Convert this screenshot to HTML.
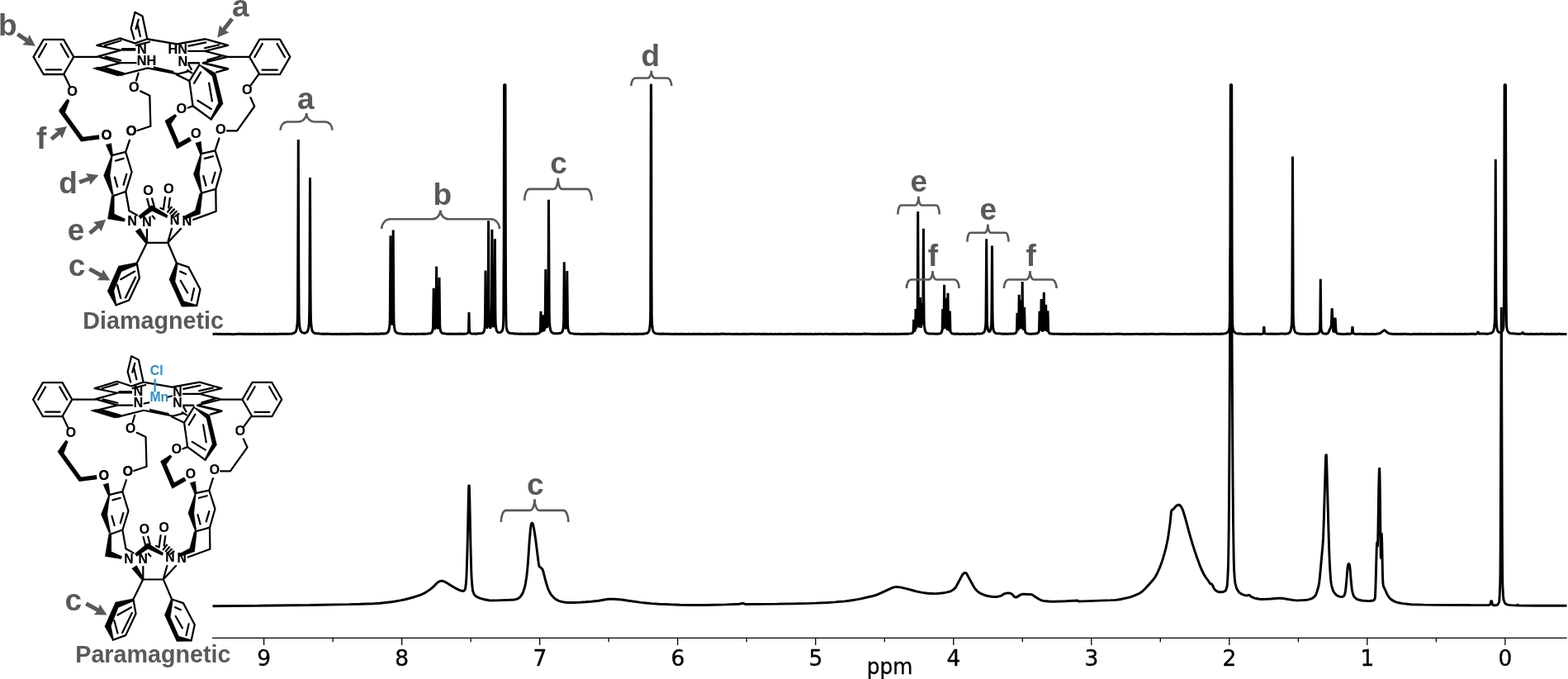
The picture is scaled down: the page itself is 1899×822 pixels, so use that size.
<!DOCTYPE html>
<html lang="en">
<head>
<meta charset="utf-8">
<title>1H NMR spectra: diamagnetic vs paramagnetic</title>
<style>
html,body{margin:0;padding:0;background:#fff;}
body{width:1899px;height:822px;overflow:hidden;}
svg{display:block;}
.lab{font-family:"Liberation Sans",Arial,Helvetica,sans-serif;font-weight:700;font-size:37px;fill:#585a59;}
.cap{font-family:"Liberation Sans",Arial,Helvetica,sans-serif;font-weight:700;font-size:28.7px;fill:#585a59;}
.atom{font-family:"Liberation Sans",Arial,Helvetica,sans-serif;font-weight:700;font-size:17.3px;fill:#000;stroke:#000;stroke-width:0.2px;stroke-linejoin:round;}
.matom{font-family:"Liberation Sans",Arial,Helvetica,sans-serif;font-weight:700;font-size:17.3px;fill:#2a8fd2;}
.tick{font-family:"DejaVu Sans","Liberation Sans",sans-serif;font-size:26.5px;fill:#000;stroke:#000;stroke-width:0.35px;}
</style>
</head>
<body>
<svg width="1899" height="822" viewBox="0 0 1899 822">
<rect x="0" y="0" width="1899" height="822" fill="#fff"/>

<g id="mol-top">
<path d="M89.25,68.90 L77.08,89.99 L52.73,89.99 L40.55,68.90 L52.72,47.81 L77.08,47.81Z M74.03,84.39 L55.77,84.39 M46.92,69.06 L56.05,53.25 M73.75,53.25 L82.88,69.06 M351.30,68.90 L339.00,90.20 L314.40,90.20 L302.10,68.90 L314.40,47.60 L339.00,47.60Z M335.93,84.60 L317.47,84.60 M308.49,69.04 L317.71,53.06 M335.69,53.06 L344.91,69.04 M89.25,68.90 L118.52,68.84 M275.66,68.94 L302.10,68.90 M117.46,54.97 L145.50,46.30 L163.49,52.33 L178.31,47.25 L214.29,53.39 L248.68,47.25 L276.19,54.97 L248.15,61.85 L275.66,68.84 L246.03,76.14 L276.19,83.02 L262.96,87.25 M126.98,55.19 L146.24,49.26 M146.03,60.79 L117.46,54.97 M165.08,54.97 L180.95,50.74 M146.03,60.79 L118.52,68.41 L146.03,76.14 L164.55,76.14 M127.72,68.73 L146.03,73.17 M146.03,76.14 L117.46,83.02 M146.56,90.63 L178.84,82.49 M228.57,55.71 L249.21,51.48 M248.15,58.15 L265.08,54.44 M228.04,61.85 L248.15,61.85 M251.32,72.65 L268.04,67.88 M228.57,76.14 L240.74,76.14 M126.46,81.96 L149.74,88.84 M178.84,82.49 L214.29,89.47 M228.57,78.25 L231.75,84.07 M226.98,84.92 L232.28,88.31 M178.31,47.04 L172.49,19.52 L163.49,14.76 L158.73,34.34 L162.43,47.25 M167.72,23.76 L164.55,34.87 M166.67,30.11 L169.84,43.86 M167.57,88.70 L164.92,97.70 M170.21,110.40 L181.32,115.69 L182.38,152.72 L166.51,158.02 M77.62,90.29 L84.50,104.58 M241.53,78.47 L229.37,98.04 L233.60,128.20 L255.82,144.60 M243.12,87.46 L235.19,100.69 M239.42,121.85 L255.82,131.90 M253.17,100.69 L256.88,122.38 M213.49,90.11 L229.37,98.04 M213.49,90.11 L228.84,86.08 M228.31,76.35 L241.01,76.35 M245.77,76.35 L275.93,83.76 L262.17,87.46 M233.60,128.20 L227.78,130.53 M313.49,89.58 L303.97,102.80 M303.44,118.15 L308.20,128.73 L287.04,158.36 L274.87,158.36 M135.61,188.20 L152.22,183.97 L159.63,208.23 L152.33,231.83 L137.09,237.22 M140.05,194.55 L149.58,191.90 M138.99,214.58 L142.17,226.22 M153.28,210.87 L149.58,223.57 M156.98,169.68 L152.22,183.97 M152.22,231.51 L156.46,255.32 L165.98,260.61 M243.44,186.08 L260.58,182.38 L267.99,205.58 L261.32,228.86 L244.18,233.62 M247.88,191.90 L257.94,189.26 M246.30,212.99 L249.47,224.63 M260.58,208.76 L256.88,221.46 M265.34,167.57 L260.58,182.38 M261.32,228.86 L261.64,255.85 L234.13,265.90 M178.31,240.87 L180.95,250.93 M184.13,240.34 L186.77,249.87 M200.00,238.76 L197.88,253.57 L194.39,251.98 M205.82,239.81 L204.23,251.46 M203.17,256.53 L207.72,250.61 M206.35,258.33 L210.90,253.36 M209.52,260.13 L213.76,255.90 M212.38,261.83 L216.40,258.65 M184.66,261.51 L187.30,264.68 M177.78,293.78 L203.17,293.78 M177.99,277.91 L177.99,293.78 M207.94,276.85 L203.17,293.78 M219.05,276.85 L203.17,293.78 M177.94,293.70 L165.77,318.57 L168.94,336.56 L156.24,363.54 L140.37,369.37 M146.19,338.15 L163.12,328.62 M141.96,345.03 L146.19,360.90 M152.01,360.37 L164.18,335.50 M203.33,293.70 L213.92,318.57 L228.20,323.33 L242.49,350.32 L238.25,369.89 M218.15,328.62 L225.03,331.80 M218.68,339.74 L227.14,354.55 M235.08,349.26 L231.90,363.54" fill="none" stroke="#000" stroke-width="2.3" stroke-linecap="round" stroke-linejoin="round"/>
<path d="M147.09,59.84 L164.34,59.84" fill="none" stroke="#000" stroke-width="3.6" stroke-linecap="butt" stroke-linejoin="miter"/>
<path d="M73.81,133.57 L99.31,168.60 L120.16,165.95" fill="none" stroke="#000" stroke-width="5.3" stroke-linecap="butt" stroke-linejoin="miter"/>
<path d="M202.38,145.66 L215.61,176.56 L230.63,168.10" fill="none" stroke="#000" stroke-width="5.5" stroke-linecap="butt" stroke-linejoin="miter"/>
<path d="M112.17,82.80 L118.52,81.11 L149.74,88.52 L148.15,91.27 L142.33,92.01Z M186.14,80.58 L210.16,85.98 L210.16,88.52 L186.14,83.54Z M81.32,119.92 L84.18,121.51 L78.89,136.01 L71.06,134.21Z M241.01,77.83 L261.11,88.41 L270.11,125.56 L256.14,145.45 L254.55,144.07 L264.50,124.39 L257.09,92.43 L242.06,79.52Z M211.90,138.25 L214.02,140.37 L207.14,149.89 L199.74,146.19Z M135.01,188.20 L125.56,212.46 L136.29,237.72 L137.69,237.22 L133.17,212.46 L136.41,188.20Z M128.20,175.29 L134.76,173.39 L136.88,188.41 L134.23,188.84Z M135.45,235.58 L138.31,235.58 L138.31,259.07 L151.64,265.00 L150.58,268.17 L130.48,265.00Z M242.84,186.08 L234.34,210.87 L243.38,234.12 L244.78,233.62 L241.53,210.87 L244.24,186.08Z M236.77,173.17 L243.33,171.27 L245.03,186.08 L242.28,186.72Z M241.80,233.99 L245.19,233.47 L242.33,259.07 L224.02,265.42 L221.69,262.57 L236.30,254.84Z M167.72,261.51 L183.60,248.49 L203.17,260.45 L202.12,263.84 L184.13,255.48 L170.05,264.89Z M164.02,280.03 L169.84,276.32 L179.15,292.72 L176.40,294.63Z M165.77,317.72 L143.54,322.06 L130.11,352.43 L140.05,370.21 L141.11,368.52 L137.94,351.90 L147.04,328.84 L166.08,320.90Z M213.07,318.04 L204.92,338.15 L220.05,371.27 L238.78,370.95 L238.25,369.15 L222.59,364.60 L212.01,340.79 L215.19,320.90Z" fill="#000" stroke="#000" stroke-width="0.4" stroke-linejoin="round"/>
<text transform="translate(162.28,110.77) scale(0.94,1)" text-anchor="middle" class="atom">O</text>
<text transform="translate(159.10,164.42) scale(0.94,1)" text-anchor="middle" class="atom">O</text>
<text transform="translate(87.67,116.06) scale(0.94,1)" text-anchor="middle" class="atom">O</text>
<text transform="translate(128.94,168.97) scale(0.94,1)" text-anchor="middle" class="atom">O</text>
<text transform="translate(219.84,136.72) scale(0.94,1)" text-anchor="middle" class="atom">O</text>
<text transform="translate(237.30,166.88) scale(0.94,1)" text-anchor="middle" class="atom">O</text>
<text transform="translate(299.21,113.76) scale(0.94,1)" text-anchor="middle" class="atom">O</text>
<text transform="translate(267.25,162.44) scale(0.94,1)" text-anchor="middle" class="atom">O</text>
<text transform="translate(128.94,169.21) scale(0.94,1)" text-anchor="middle" class="atom">O</text>
<text transform="translate(159.10,164.24) scale(0.94,1)" text-anchor="middle" class="atom">O</text>
<text transform="translate(160.11,273.31) scale(0.94,1)" text-anchor="middle" class="atom">N</text>
<text transform="translate(177.78,273.52) scale(0.94,1)" text-anchor="middle" class="atom">N</text>
<text transform="translate(211.64,271.93) scale(0.94,1)" text-anchor="middle" class="atom">N</text>
<text transform="translate(226.46,272.99) scale(0.94,1)" text-anchor="middle" class="atom">N</text>
<text transform="translate(179.58,236.48) scale(0.94,1)" text-anchor="middle" class="atom">O</text>
<text transform="translate(204.23,234.37) scale(0.94,1)" text-anchor="middle" class="atom">O</text>
<text transform="translate(171.96,65.08) scale(0.94,1)" text-anchor="middle" class="atom">N</text>
<text transform="translate(177.57,78.84) scale(0.94,1)" text-anchor="middle" class="atom">NH</text>
<text transform="translate(215.34,65.40) scale(0.94,1)" text-anchor="middle" class="atom">HN</text>
<text transform="translate(221.48,79.90) scale(0.94,1)" text-anchor="middle" class="atom">N</text>
</g>
<g id="mol-bottom" transform="translate(0.81,416.83) scale(0.969)">
<path d="M89.25,68.90 L77.08,89.99 L52.73,89.99 L40.55,68.90 L52.72,47.81 L77.08,47.81Z M74.03,84.39 L55.77,84.39 M46.92,69.06 L56.05,53.25 M73.75,53.25 L82.88,69.06 M351.30,68.90 L339.00,90.20 L314.40,90.20 L302.10,68.90 L314.40,47.60 L339.00,47.60Z M335.93,84.60 L317.47,84.60 M308.49,69.04 L317.71,53.06 M335.69,53.06 L344.91,69.04 M89.25,68.90 L118.52,68.84 M275.66,68.94 L302.10,68.90 M117.46,54.97 L145.50,46.30 L163.49,52.33 L178.31,47.25 L214.29,53.39 L248.68,47.25 L276.19,54.97 L248.15,61.85 L275.66,68.84 L246.03,76.14 L276.19,83.02 L262.96,87.25 M126.98,55.19 L146.24,49.26 M146.03,60.79 L117.46,54.97 M165.08,54.97 L180.95,50.74 M146.03,60.79 L118.52,68.41 L146.03,76.14 L164.55,76.14 M127.72,68.73 L146.03,73.17 M146.03,76.14 L117.46,83.02 M146.56,90.63 L178.84,82.49 M228.57,55.71 L249.21,51.48 M248.15,58.15 L265.08,54.44 M228.04,61.85 L248.15,61.85 M251.32,72.65 L268.04,67.88 M228.57,76.14 L240.74,76.14 M126.46,81.96 L149.74,88.84 M178.84,82.49 L214.29,89.47 M228.57,78.25 L231.75,84.07 M226.98,84.92 L232.28,88.31 M178.31,47.04 L172.49,19.52 L163.49,14.76 L158.73,34.34 L162.43,47.25 M167.72,23.76 L164.55,34.87 M166.67,30.11 L169.84,43.86 M167.57,88.70 L164.92,97.70 M170.21,110.40 L181.32,115.69 L182.38,152.72 L166.51,158.02 M77.62,90.29 L84.50,104.58 M241.53,78.47 L229.37,98.04 L233.60,128.20 L255.82,144.60 M243.12,87.46 L235.19,100.69 M239.42,121.85 L255.82,131.90 M253.17,100.69 L256.88,122.38 M213.49,90.11 L229.37,98.04 M213.49,90.11 L228.84,86.08 M228.31,76.35 L241.01,76.35 M245.77,76.35 L275.93,83.76 L262.17,87.46 M233.60,128.20 L227.78,130.53 M313.49,89.58 L303.97,102.80 M303.44,118.15 L308.20,128.73 L287.04,158.36 L274.87,158.36 M135.61,188.20 L152.22,183.97 L159.63,208.23 L152.33,231.83 L137.09,237.22 M140.05,194.55 L149.58,191.90 M138.99,214.58 L142.17,226.22 M153.28,210.87 L149.58,223.57 M156.98,169.68 L152.22,183.97 M152.22,231.51 L156.46,255.32 L165.98,260.61 M243.44,186.08 L260.58,182.38 L267.99,205.58 L261.32,228.86 L244.18,233.62 M247.88,191.90 L257.94,189.26 M246.30,212.99 L249.47,224.63 M260.58,208.76 L256.88,221.46 M265.34,167.57 L260.58,182.38 M261.32,228.86 L261.64,255.85 L234.13,265.90 M178.31,240.87 L180.95,250.93 M184.13,240.34 L186.77,249.87 M200.00,238.76 L197.88,253.57 L194.39,251.98 M205.82,239.81 L204.23,251.46 M203.17,256.53 L207.72,250.61 M206.35,258.33 L210.90,253.36 M209.52,260.13 L213.76,255.90 M212.38,261.83 L216.40,258.65 M184.66,261.51 L187.30,264.68 M177.78,293.78 L203.17,293.78 M177.99,277.91 L177.99,293.78 M207.94,276.85 L203.17,293.78 M219.05,276.85 L203.17,293.78 M177.94,293.70 L165.77,318.57 L168.94,336.56 L156.24,363.54 L140.37,369.37 M146.19,338.15 L163.12,328.62 M141.96,345.03 L146.19,360.90 M152.01,360.37 L164.18,335.50 M203.33,293.70 L213.92,318.57 L228.20,323.33 L242.49,350.32 L238.25,369.89 M218.15,328.62 L225.03,331.80 M218.68,339.74 L227.14,354.55 M235.08,349.26 L231.90,363.54 M179.35,73.95 L185.36,72.86 M208.84,65.76 L213.75,64.67" fill="none" stroke="#000" stroke-width="2.3" stroke-linecap="round" stroke-linejoin="round"/>
<path d="M147.09,59.84 L164.34,59.84" fill="none" stroke="#000" stroke-width="3.6" stroke-linecap="butt" stroke-linejoin="miter"/>
<path d="M73.81,133.57 L99.31,168.60 L120.16,165.95" fill="none" stroke="#000" stroke-width="5.3" stroke-linecap="butt" stroke-linejoin="miter"/>
<path d="M202.38,145.66 L215.61,176.56 L230.63,168.10" fill="none" stroke="#000" stroke-width="5.5" stroke-linecap="butt" stroke-linejoin="miter"/>
<path d="M112.17,82.80 L118.52,81.11 L149.74,88.52 L148.15,91.27 L142.33,92.01Z M186.14,80.58 L210.16,85.98 L210.16,88.52 L186.14,83.54Z M81.32,119.92 L84.18,121.51 L78.89,136.01 L71.06,134.21Z M241.01,77.83 L261.11,88.41 L270.11,125.56 L256.14,145.45 L254.55,144.07 L264.50,124.39 L257.09,92.43 L242.06,79.52Z M211.90,138.25 L214.02,140.37 L207.14,149.89 L199.74,146.19Z M135.01,188.20 L125.56,212.46 L136.29,237.72 L137.69,237.22 L133.17,212.46 L136.41,188.20Z M128.20,175.29 L134.76,173.39 L136.88,188.41 L134.23,188.84Z M135.45,235.58 L138.31,235.58 L138.31,259.07 L151.64,265.00 L150.58,268.17 L130.48,265.00Z M242.84,186.08 L234.34,210.87 L243.38,234.12 L244.78,233.62 L241.53,210.87 L244.24,186.08Z M236.77,173.17 L243.33,171.27 L245.03,186.08 L242.28,186.72Z M241.80,233.99 L245.19,233.47 L242.33,259.07 L224.02,265.42 L221.69,262.57 L236.30,254.84Z M167.72,261.51 L183.60,248.49 L203.17,260.45 L202.12,263.84 L184.13,255.48 L170.05,264.89Z M164.02,280.03 L169.84,276.32 L179.15,292.72 L176.40,294.63Z M165.77,317.72 L143.54,322.06 L130.11,352.43 L140.05,370.21 L141.11,368.52 L137.94,351.90 L147.04,328.84 L166.08,320.90Z M213.07,318.04 L204.92,338.15 L220.05,371.27 L238.78,370.95 L238.25,369.15 L222.59,364.60 L212.01,340.79 L215.19,320.90Z" fill="#000" stroke="#000" stroke-width="0.4" stroke-linejoin="round"/>
<path d="M192.78,43.16 L192.78,59.54" fill="none" stroke="#2a8fd2" stroke-width="2.3" stroke-linecap="butt"/>
<text transform="translate(162.28,110.77) scale(0.94,1)" text-anchor="middle" class="atom">O</text>
<text transform="translate(159.10,164.42) scale(0.94,1)" text-anchor="middle" class="atom">O</text>
<text transform="translate(87.67,116.06) scale(0.94,1)" text-anchor="middle" class="atom">O</text>
<text transform="translate(128.94,168.97) scale(0.94,1)" text-anchor="middle" class="atom">O</text>
<text transform="translate(219.84,136.72) scale(0.94,1)" text-anchor="middle" class="atom">O</text>
<text transform="translate(237.30,166.88) scale(0.94,1)" text-anchor="middle" class="atom">O</text>
<text transform="translate(299.21,113.76) scale(0.94,1)" text-anchor="middle" class="atom">O</text>
<text transform="translate(267.25,162.44) scale(0.94,1)" text-anchor="middle" class="atom">O</text>
<text transform="translate(128.94,169.21) scale(0.94,1)" text-anchor="middle" class="atom">O</text>
<text transform="translate(159.10,164.24) scale(0.94,1)" text-anchor="middle" class="atom">O</text>
<text transform="translate(160.11,273.31) scale(0.94,1)" text-anchor="middle" class="atom">N</text>
<text transform="translate(177.78,273.52) scale(0.94,1)" text-anchor="middle" class="atom">N</text>
<text transform="translate(211.64,271.93) scale(0.94,1)" text-anchor="middle" class="atom">N</text>
<text transform="translate(226.46,272.99) scale(0.94,1)" text-anchor="middle" class="atom">N</text>
<text transform="translate(179.58,236.48) scale(0.94,1)" text-anchor="middle" class="atom">O</text>
<text transform="translate(204.23,234.37) scale(0.94,1)" text-anchor="middle" class="atom">O</text>
<text transform="translate(171.93,63.76) scale(0.94,1)" text-anchor="middle" class="atom">N</text>
<text transform="translate(171.93,78.51) scale(0.94,1)" text-anchor="middle" class="atom">N</text>
<text transform="translate(221.07,65.40) scale(0.94,1)" text-anchor="middle" class="atom">N</text>
<text transform="translate(221.07,79.05) scale(0.94,1)" text-anchor="middle" class="atom">N</text>
<text transform="translate(198.13,71.63) scale(0.94,1)" text-anchor="middle" class="matom">Mn</text>
<text transform="translate(194.97,38.10) scale(0.94,1)" text-anchor="middle" class="matom">Cl</text>
</g>
<g transform="scale(1.0,1)" fill="none" stroke="#000" stroke-linejoin="bevel" stroke-linecap="butt">
<path d="M257.50,733.80 L313.50,733.26 L375.00,732.50 L422.25,731.65 L436.50,731.27 L452.75,730.68 L460.25,730.17 L469.00,729.31 L473.75,728.73 L478.75,727.95 L484.75,726.85 L490.25,725.71 L495.25,724.47 L501.75,722.71 L505.75,721.44 L509.50,720.06 L512.75,718.69 L514.75,717.65 L517.25,716.10 L520.50,713.84 L522.50,712.30 L525.00,710.20 L526.00,709.23 L528.75,706.24 L529.75,705.36 L530.75,704.63 L531.75,704.06 L532.75,703.63 L533.75,703.34 L534.75,703.21 L535.75,703.26 L536.50,703.42 L539.50,704.74 L541.00,705.60 L545.25,708.35 L549.75,711.06 L552.25,712.42 L555.75,714.15 L559.25,715.47 L560.25,715.54 L561.75,715.32 L562.25,714.87 L563.25,713.41 L563.50,712.64 L563.75,711.35 L564.50,705.00 L565.00,696.79 L565.50,683.26 L566.00,665.31 L566.60,640.00 L567.50,595.99 L567.75,589.41 L568.00,587.00 L568.25,587.87 L568.50,592.60 L568.70,600.00 L570.00,663.20 L570.75,691.33 L571.00,697.21 L571.50,705.00 L572.00,710.54 L572.50,714.68 L572.80,716.00 L573.75,718.39 L574.50,719.88 L575.00,720.50 L576.50,721.80 L577.50,722.54 L580.50,723.89 L582.50,724.60 L587.00,725.79 L592.25,726.79 L595.00,727.00 L602.25,726.90 L617.00,726.31 L622.50,726.00 L623.75,725.83 L625.25,725.44 L627.00,724.80 L627.75,724.41 L628.50,723.86 L630.00,722.50 L630.75,721.65 L631.75,720.21 L632.75,718.55 L633.25,717.47 L634.00,715.50 L635.50,710.75 L636.50,706.07 L637.75,698.20 L638.50,691.48 L639.25,683.09 L639.75,676.66 L641.20,655.00 L642.25,642.79 L642.80,638.00 L643.25,635.28 L643.75,633.63 L644.00,633.28 L644.20,633.20 L644.50,633.27 L644.75,633.43 L645.00,633.73 L645.50,634.87 L646.50,639.26 L647.25,643.40 L648.75,653.56 L652.00,679.47 L652.50,683.01 L652.75,684.28 L653.00,685.21 L653.40,686.00 L654.75,686.99 L656.25,688.34 L656.80,689.00 L657.25,689.87 L658.25,693.06 L660.25,701.05 L661.75,706.51 L663.00,710.53 L664.25,713.84 L665.75,716.98 L666.75,718.72 L667.50,719.85 L668.75,721.40 L670.00,722.80 L671.00,723.80 L672.00,724.64 L674.75,726.40 L676.00,727.05 L677.25,727.57 L681.25,728.63 L684.75,729.28 L687.50,729.50 L696.00,729.55 L700.00,729.40 L709.50,728.81 L716.00,728.21 L725.25,727.17 L727.75,726.79 L735.00,725.48 L737.50,725.20 L739.50,725.12 L743.25,725.27 L753.25,726.08 L765.00,727.80 L776.25,729.34 L782.50,730.07 L789.00,730.65 L798.00,731.20 L812.00,731.81 L823.25,732.16 L837.25,732.43 L846.25,732.51 L854.25,732.46 L879.25,731.88 L895.25,731.18 L896.25,731.04 L898.75,730.45 L900.00,730.30 L900.50,730.40 L902.00,731.28 L902.50,731.40 L941.25,731.10 L963.75,730.78 L980.50,730.39 L987.75,730.15 L1002.25,729.49 L1011.50,728.90 L1023.25,727.87 L1028.00,727.29 L1033.25,726.51 L1038.25,725.67 L1042.50,724.84 L1056.00,721.81 L1059.75,720.76 L1063.00,719.61 L1068.00,717.44 L1080.50,711.58 L1082.50,710.93 L1084.25,710.64 L1086.00,710.59 L1087.75,710.67 L1089.50,710.85 L1091.25,711.14 L1099.50,713.07 L1108.25,715.54 L1111.75,716.41 L1117.00,717.37 L1123.25,718.18 L1126.25,718.42 L1129.25,718.57 L1132.25,718.60 L1134.75,718.52 L1138.00,718.26 L1142.50,717.74 L1144.75,717.37 L1147.25,716.86 L1150.25,716.13 L1151.75,715.53 L1153.00,714.83 L1154.75,713.70 L1156.25,712.45 L1157.00,711.58 L1157.75,710.44 L1165.00,696.92 L1166.00,695.19 L1166.50,694.60 L1167.25,694.02 L1168.00,693.71 L1169.00,693.54 L1169.50,693.60 L1170.00,693.82 L1170.75,694.59 L1179.00,709.75 L1181.00,712.72 L1182.00,713.95 L1183.25,715.27 L1184.50,716.39 L1185.75,717.32 L1187.25,718.23 L1188.75,718.94 L1191.25,720.00 L1193.25,720.71 L1195.25,721.26 L1197.75,721.77 L1200.75,722.20 L1204.00,722.45 L1206.50,722.42 L1208.75,722.17 L1210.50,721.82 L1212.25,721.31 L1213.25,720.76 L1215.50,719.24 L1216.75,718.72 L1218.00,718.36 L1219.25,718.11 L1220.50,717.95 L1221.50,717.92 L1223.25,718.16 L1225.00,718.80 L1225.75,719.41 L1227.75,721.80 L1229.25,722.83 L1229.75,723.06 L1230.25,723.16 L1230.75,723.10 L1231.25,722.87 L1236.25,719.89 L1237.00,719.60 L1237.75,719.42 L1239.00,719.26 L1240.25,719.24 L1244.75,719.59 L1247.75,719.56 L1249.00,719.69 L1249.75,719.90 L1250.75,720.38 L1253.75,722.44 L1257.75,724.96 L1259.75,726.08 L1261.25,726.72 L1262.75,727.15 L1264.50,727.46 L1272.75,728.25 L1274.50,728.30 L1277.25,728.25 L1290.50,727.78 L1305.00,727.00 L1305.25,727.07 L1306.25,727.93 L1306.50,728.00 L1311.50,727.88 L1345.00,726.63 L1350.75,726.36 L1354.00,726.01 L1357.00,725.52 L1360.50,724.80 L1365.75,723.63 L1368.75,722.81 L1372.25,721.64 L1376.00,720.20 L1378.25,719.18 L1380.50,717.93 L1382.25,716.77 L1383.75,715.61 L1385.25,714.26 L1387.25,712.26 L1394.75,703.94 L1397.75,700.32 L1399.00,698.59 L1400.50,695.99 L1402.00,692.93 L1403.75,688.97 L1405.75,684.11 L1407.25,679.87 L1408.75,675.15 L1410.25,670.14 L1411.50,665.45 L1413.50,656.51 L1414.25,652.67 L1415.00,648.13 L1417.00,634.00 L1418.25,621.30 L1418.50,619.33 L1418.75,618.13 L1419.00,617.63 L1419.50,617.11 L1420.50,616.85 L1421.00,616.50 L1423.50,613.52 L1424.75,612.34 L1425.50,611.85 L1426.25,611.50 L1427.00,611.28 L1427.75,611.19 L1428.25,611.30 L1429.00,611.73 L1429.50,612.20 L1430.25,613.13 L1431.50,615.25 L1432.25,616.92 L1432.75,618.26 L1434.25,622.96 L1435.50,627.21 L1439.50,642.19 L1441.75,650.15 L1444.00,657.75 L1446.25,664.93 L1449.75,675.29 L1452.50,682.85 L1455.00,689.00 L1457.25,693.75 L1458.50,696.05 L1460.00,698.50 L1464.00,704.00 L1465.50,706.50 L1465.75,706.73 L1466.00,706.79 L1466.75,706.70 L1467.00,706.80 L1467.75,707.47 L1468.25,708.11 L1468.75,708.99 L1469.50,710.93 L1470.00,712.00 L1471.00,713.42 L1472.00,714.54 L1472.75,715.15 L1474.25,715.96 L1475.50,716.48 L1476.50,716.74 L1477.50,716.82 L1478.75,716.78 L1481.00,716.50 L1481.75,716.31 L1484.00,715.20 L1484.25,714.97 L1484.50,714.55 L1485.00,713.29 L1486.00,710.00 L1486.25,708.35 L1486.75,701.13 L1487.30,690.00 L1487.50,684.26 L1487.75,672.78 L1488.20,640.00 L1488.50,606.32 L1489.00,524.29 L1490.00,330.00 L1490.25,302.71 L1490.50,297.08 L1490.80,300.00 L1491.00,299.35 L1491.25,301.16 L1491.50,317.03 L1493.00,576.21 L1493.50,632.32 L1494.25,679.41 L1494.60,690.00 L1495.25,699.44 L1495.75,704.57 L1496.00,706.00 L1497.00,710.07 L1497.75,712.50 L1499.50,715.48 L1500.50,716.83 L1501.75,717.86 L1503.50,719.05 L1504.75,719.70 L1506.00,720.14 L1508.00,720.67 L1510.00,721.00 L1510.75,720.91 L1512.25,720.37 L1513.00,720.40 L1513.25,720.54 L1514.50,721.80 L1517.00,723.10 L1518.75,723.83 L1520.00,724.20 L1524.00,725.05 L1526.00,725.35 L1527.75,725.49 L1531.75,725.40 L1539.25,725.04 L1547.75,724.30 L1551.25,724.19 L1553.75,724.42 L1559.75,725.56 L1565.50,726.40 L1569.00,726.80 L1570.75,726.90 L1572.75,726.89 L1579.00,726.54 L1582.00,726.25 L1584.75,725.87 L1586.25,725.44 L1589.00,724.40 L1589.75,724.03 L1590.75,723.28 L1592.00,722.08 L1593.25,720.68 L1593.75,719.79 L1594.50,717.92 L1596.00,713.00 L1597.00,709.05 L1597.75,704.67 L1598.50,698.00 L1602.00,659.51 L1602.50,651.88 L1602.80,645.00 L1603.50,623.64 L1605.30,562.00 L1605.50,556.35 L1605.75,551.93 L1606.00,550.00 L1606.25,550.43 L1606.50,553.70 L1606.75,560.25 L1608.75,634.30 L1609.75,667.00 L1610.50,684.61 L1611.25,696.76 L1611.75,702.67 L1612.25,706.72 L1612.75,709.02 L1613.75,712.84 L1614.50,715.05 L1615.00,716.00 L1617.00,718.83 L1618.25,720.25 L1619.25,720.93 L1621.25,721.83 L1623.00,722.38 L1624.50,722.64 L1625.75,722.43 L1627.25,721.87 L1627.75,721.32 L1628.25,720.35 L1629.00,718.00 L1629.25,716.78 L1629.75,713.12 L1630.75,703.41 L1631.75,690.62 L1632.25,686.01 L1632.75,683.54 L1633.00,682.91 L1633.25,682.59 L1633.50,682.50 L1633.75,682.60 L1634.00,682.94 L1634.25,683.59 L1634.75,686.05 L1635.00,688.00 L1636.40,705.00 L1637.25,712.50 L1637.75,715.85 L1638.25,717.91 L1639.00,720.24 L1639.75,721.96 L1640.25,722.74 L1642.50,724.77 L1643.25,725.28 L1644.00,725.60 L1647.25,726.47 L1649.50,726.93 L1652.75,727.29 L1657.00,727.60 L1659.25,727.53 L1663.00,727.00 L1663.50,726.86 L1664.00,726.49 L1664.50,725.84 L1665.25,724.15 L1665.50,722.12 L1666.00,709.59 L1667.25,663.59 L1667.50,658.74 L1667.80,656.00 L1668.00,657.47 L1668.25,661.82 L1668.40,662.00 L1668.50,660.36 L1668.75,652.28 L1669.00,640.00 L1669.75,591.71 L1670.25,571.51 L1670.50,566.30 L1670.75,567.42 L1671.00,576.08 L1671.50,608.30 L1672.00,660.00 L1672.25,672.41 L1672.50,676.50 L1672.60,676.00 L1672.75,669.93 L1673.00,651.55 L1673.20,645.00 L1673.50,650.83 L1673.75,658.95 L1674.50,697.06 L1674.75,702.82 L1675.00,706.31 L1675.25,708.52 L1675.60,710.00 L1677.25,713.45 L1680.00,719.54 L1681.25,721.73 L1682.75,723.72 L1684.25,725.24 L1685.75,726.35 L1689.00,728.09 L1690.25,728.63 L1691.50,729.06 L1695.50,730.04 L1698.75,730.64 L1704.75,731.30 L1709.25,731.67 L1723.75,732.13 L1737.75,732.38 L1782.25,732.61 L1803.00,732.60 L1803.75,732.37 L1804.80,731.50 L1805.00,731.04 L1805.75,727.90 L1806.00,727.57 L1806.25,727.57 L1806.50,727.85 L1806.80,728.50 L1807.50,731.79 L1807.75,732.16 L1808.25,732.56 L1809.00,732.80 L1811.00,732.76 L1813.00,732.50 L1813.25,732.42 L1813.75,732.00 L1814.25,731.31 L1815.60,729.00 L1815.75,728.21 L1816.25,719.90 L1816.75,708.19 L1817.00,694.29 L1817.30,650.00 L1818.00,434.27 L1818.30,372.00 L1818.50,403.27 L1819.25,638.12 L1819.50,684.17 L1819.75,704.79 L1820.00,712.00 L1820.50,720.93 L1820.75,724.30 L1821.00,726.00 L1822.25,729.33 L1822.75,730.25 L1823.00,730.50 L1824.75,731.70 L1825.75,732.15 L1830.00,732.62 L1833.50,732.90 L1837.00,733.00 L1837.25,732.84 L1837.75,732.15 L1838.00,732.00 L1838.25,732.16 L1838.75,732.84 L1839.00,733.00 L1857.25,733.19 L1897.50,733.20" stroke-width="2.95"/>
<path d="M257.50,404.41 L260.90,404.16 L262.20,404.22 L264.00,404.55 L266.80,404.30 L268.30,404.44 L273.10,404.44 L275.60,404.27 L278.60,404.59 L280.00,404.51 L281.10,404.66 L283.10,404.63 L284.10,404.43 L285.10,404.57 L285.60,404.41 L287.40,404.40 L288.00,404.22 L289.50,404.34 L292.40,404.25 L293.80,404.42 L295.50,404.24 L298.30,404.51 L299.80,404.36 L301.70,404.55 L304.60,404.26 L307.60,404.42 L308.70,404.27 L310.90,404.43 L313.70,404.24 L315.10,404.47 L317.80,404.59 L320.20,404.49 L321.10,404.30 L323.20,404.38 L324.00,404.58 L326.80,404.21 L328.50,404.39 L333.20,404.25 L335.30,404.39 L338.70,404.15 L341.40,404.35 L343.50,404.18 L344.90,404.33 L348.60,404.32 L353.50,403.93 L355.90,403.27 L357.10,402.56 L357.80,401.92 L358.60,400.50 L359.50,396.98 L360.10,391.38 L360.40,385.45 L360.60,372.83 L361.30,168.91 L361.80,334.65 L362.10,380.80 L362.40,389.67 L363.00,395.94 L363.80,399.72 L364.20,400.72 L365.10,401.95 L366.50,402.82 L369.00,403.20 L370.20,402.86 L371.40,402.18 L372.60,400.73 L373.30,398.76 L373.70,396.78 L374.20,392.44 L374.50,388.03 L374.90,363.43 L375.50,215.02 L376.00,344.54 L376.30,381.64 L376.60,389.71 L377.30,396.79 L377.70,398.80 L378.30,400.68 L378.90,401.80 L379.70,402.62 L380.90,403.29 L382.60,403.78 L385.60,403.75 L387.20,404.07 L389.30,404.20 L390.20,404.09 L393.00,404.42 L393.60,404.22 L395.30,404.11 L397.40,404.34 L398.60,404.22 L401.50,404.43 L403.10,404.35 L403.90,404.52 L405.80,404.44 L406.70,404.22 L409.70,404.40 L414.10,404.33 L414.60,404.45 L416.60,404.29 L419.10,404.46 L421.80,404.28 L423.20,404.41 L425.40,404.19 L428.10,404.28 L430.40,404.16 L431.00,404.30 L433.40,404.33 L437.20,404.12 L438.10,404.28 L441.00,404.25 L443.90,404.54 L447.10,404.31 L451.50,404.37 L454.20,404.08 L459.00,404.37 L460.60,403.99 L462.20,403.86 L465.20,404.03 L467.90,403.42 L469.20,402.72 L470.00,401.90 L470.60,400.84 L471.00,399.71 L471.60,396.59 L472.10,391.29 L472.30,386.04 L473.00,285.36 L473.70,384.45 L474.00,390.30 L474.50,392.86 L474.80,392.55 L475.00,391.61 L475.40,386.84 L475.70,367.50 L476.20,278.59 L476.90,385.26 L477.10,390.85 L477.60,396.37 L478.30,399.94 L478.80,401.26 L479.20,401.88 L480.70,403.05 L483.10,403.83 L486.10,403.91 L487.10,404.16 L489.20,404.37 L489.70,404.24 L491.80,404.31 L492.20,404.14 L494.80,404.21 L495.50,404.40 L496.40,404.41 L499.60,404.18 L501.90,404.35 L503.40,404.39 L505.00,404.19 L507.50,404.37 L509.20,404.19 L509.90,404.34 L511.40,404.20 L512.20,404.31 L513.20,404.08 L514.40,404.18 L517.60,404.09 L521.20,403.42 L522.10,403.04 L522.80,402.49 L523.50,401.28 L524.00,399.63 L524.50,395.50 L525.20,348.83 L525.80,391.97 L526.20,397.15 L526.60,398.11 L526.80,398.11 L527.00,397.86 L527.40,396.52 L527.70,394.28 L528.00,387.00 L528.60,322.44 L529.20,386.86 L529.50,394.02 L529.80,396.11 L530.20,397.31 L530.50,397.36 L530.70,397.07 L531.10,395.32 L531.40,389.54 L532.00,335.90 L532.70,393.74 L532.90,396.76 L533.30,399.37 L533.80,401.23 L534.60,402.63 L535.30,403.19 L536.40,403.69 L538.70,403.78 L541.70,404.37 L544.20,404.23 L544.90,404.05 L545.40,404.20 L547.90,404.36 L550.10,404.17 L551.20,404.34 L552.00,404.21 L553.10,404.35 L555.40,404.31 L557.00,404.03 L560.00,404.27 L562.60,404.28 L564.90,403.88 L566.20,403.38 L566.70,402.90 L567.20,401.81 L567.50,399.48 L568.00,377.98 L568.50,399.48 L568.70,401.39 L569.30,402.90 L570.10,403.67 L570.90,404.02 L572.10,404.13 L573.90,403.95 L574.70,404.14 L575.10,404.03 L576.00,404.18 L577.60,403.92 L578.10,403.99 L578.90,403.81 L580.70,403.79 L583.40,403.50 L585.00,402.80 L585.80,401.87 L586.50,400.00 L587.00,397.28 L587.30,393.81 L587.60,376.88 L588.00,327.47 L588.40,376.29 L588.70,392.70 L589.10,396.09 L589.50,397.02 L589.80,396.76 L590.30,394.53 L590.80,388.36 L591.10,371.83 L591.60,267.27 L592.10,371.78 L592.30,385.58 L592.80,393.45 L593.10,395.47 L593.50,396.82 L593.80,397.10 L594.20,396.48 L594.80,392.97 L595.20,386.56 L595.50,358.95 L595.90,277.75 L596.40,373.62 L596.60,386.26 L596.90,391.46 L597.20,393.94 L597.50,395.06 L597.60,395.23 L597.80,395.18 L598.10,394.34 L598.60,389.96 L598.80,383.93 L599.40,289.33 L599.90,377.15 L600.10,388.81 L600.30,392.68 L601.00,398.49 L601.50,400.19 L602.10,401.37 L603.50,402.46 L604.40,402.64 L605.90,402.39 L607.30,401.58 L608.10,400.52 L608.60,399.41 L609.00,397.99 L609.30,396.03 L609.60,390.84 L609.80,380.78 L610.20,305.71 L610.60,102.60 L612.00,102.60 L612.40,305.87 L612.60,356.95 L612.90,387.15 L613.20,395.13 L613.50,397.67 L613.90,399.33 L614.60,401.00 L615.10,401.75 L616.00,402.62 L617.30,403.32 L618.70,403.57 L620.40,403.56 L623.00,404.06 L625.10,403.92 L628.10,404.30 L631.60,404.04 L633.30,404.29 L636.00,404.31 L637.10,404.18 L637.60,404.31 L639.60,404.04 L643.10,404.20 L645.50,403.91 L648.40,404.19 L651.60,403.79 L652.90,403.23 L653.40,402.84 L653.90,402.12 L654.40,400.11 L655.00,376.72 L655.40,395.71 L655.70,400.23 L656.10,401.06 L656.30,401.14 L656.50,401.00 L656.80,400.31 L657.00,398.75 L657.50,381.26 L658.00,398.42 L658.30,400.06 L658.70,400.22 L659.00,399.90 L659.40,398.81 L659.80,396.65 L660.20,390.51 L660.80,326.08 L661.40,389.62 L661.60,393.56 L661.90,395.46 L662.10,396.09 L662.30,396.21 L662.70,395.45 L663.20,392.22 L663.60,386.64 L663.90,371.91 L664.50,241.69 L665.20,380.23 L665.50,389.36 L666.00,395.45 L666.70,399.43 L667.20,400.85 L667.80,401.91 L668.20,402.35 L669.90,403.37 L671.90,403.80 L675.20,403.77 L678.50,403.36 L679.70,402.95 L680.70,402.02 L681.40,400.67 L681.90,398.81 L682.50,393.46 L682.70,386.87 L683.30,317.16 L683.80,379.01 L684.00,390.28 L684.20,393.83 L684.60,396.45 L684.90,397.22 L685.20,397.41 L685.50,396.91 L685.80,395.50 L686.10,391.68 L686.80,327.99 L687.50,392.51 L687.80,396.80 L688.30,399.66 L689.10,401.80 L690.00,402.89 L690.70,403.36 L691.30,403.53 L693.70,403.81 L694.10,404.01 L696.70,404.24 L701.30,404.21 L703.00,404.41 L713.00,404.15 L717.40,404.39 L718.50,404.26 L721.50,404.41 L729.00,404.07 L732.00,404.28 L733.60,404.17 L737.30,404.24 L738.00,404.41 L741.60,404.26 L744.30,404.51 L746.10,404.32 L750.80,404.42 L751.90,404.26 L754.40,404.23 L758.00,404.45 L760.90,404.14 L765.30,404.45 L769.70,404.15 L772.70,404.44 L773.60,404.22 L779.00,404.25 L783.00,403.59 L784.00,403.29 L784.60,402.87 L785.70,401.36 L786.20,400.15 L786.70,398.06 L787.30,392.85 L787.60,387.55 L787.80,375.53 L788.40,102.60 L788.60,102.60 L788.70,126.71 L789.00,327.58 L789.30,383.44 L789.70,392.63 L790.50,398.78 L790.80,399.97 L791.50,401.67 L792.40,402.79 L792.90,403.17 L794.00,403.65 L799.00,404.27 L802.00,404.01 L805.80,404.34 L809.50,404.21 L814.70,404.47 L818.10,404.16 L821.90,404.42 L823.80,404.28 L831.40,404.45 L834.10,404.28 L836.50,404.60 L840.80,404.26 L843.10,404.53 L845.30,404.32 L854.20,404.43 L857.90,404.27 L860.90,404.59 L867.90,404.25 L871.30,404.43 L874.40,404.08 L878.40,404.29 L879.80,404.50 L882.00,404.19 L883.40,404.19 L886.80,404.56 L892.70,404.22 L895.20,404.57 L896.50,404.45 L897.60,404.55 L900.60,404.25 L906.10,404.55 L908.40,404.26 L911.60,404.35 L912.70,404.19 L916.10,404.46 L919.20,404.27 L920.10,404.38 L926.10,404.29 L930.80,404.55 L932.70,404.34 L933.10,404.45 L934.30,404.35 L936.60,404.62 L939.30,404.35 L941.00,404.63 L943.80,404.36 L948.10,404.57 L950.30,404.42 L952.50,404.50 L954.00,404.34 L954.50,404.45 L957.50,404.20 L958.90,404.38 L962.50,404.47 L964.90,404.30 L966.10,404.47 L967.30,404.33 L972.30,404.45 L973.20,404.30 L973.60,404.44 L975.30,404.25 L978.70,404.56 L981.70,404.29 L985.20,404.62 L987.20,404.35 L989.50,404.47 L992.30,404.30 L994.20,404.33 L996.70,404.62 L999.10,404.29 L1000.20,404.36 L1000.90,404.23 L1004.50,404.52 L1005.00,404.40 L1009.10,404.36 L1018.00,404.53 L1019.20,404.34 L1021.50,404.50 L1023.70,404.23 L1026.20,404.33 L1026.80,404.48 L1032.40,404.17 L1039.10,404.42 L1040.10,404.30 L1043.50,404.56 L1047.30,404.10 L1050.20,404.35 L1053.10,404.22 L1055.80,404.40 L1057.10,404.30 L1058.00,404.46 L1064.50,404.32 L1066.60,404.46 L1068.30,404.31 L1068.90,404.45 L1069.60,404.32 L1070.20,404.52 L1078.00,404.26 L1081.30,404.56 L1084.30,404.30 L1086.20,404.43 L1091.40,404.28 L1091.90,404.41 L1092.40,404.27 L1096.50,404.27 L1097.30,404.08 L1100.10,404.14 L1103.80,403.61 L1104.60,403.31 L1105.60,402.48 L1105.90,401.74 L1106.10,400.47 L1106.60,386.87 L1107.10,399.78 L1107.30,400.76 L1107.60,400.90 L1108.10,400.05 L1108.30,399.17 L1108.60,394.20 L1109.00,374.13 L1109.40,393.02 L1109.60,396.46 L1109.70,396.83 L1109.90,396.71 L1110.30,395.12 L1110.90,387.76 L1111.20,369.73 L1111.70,255.92 L1112.20,369.56 L1112.40,384.50 L1112.70,390.72 L1113.00,393.73 L1113.30,395.18 L1113.50,395.51 L1113.70,395.43 L1113.90,394.30 L1114.10,388.73 L1114.50,360.04 L1114.90,388.84 L1115.10,394.57 L1115.30,395.72 L1115.40,395.91 L1115.60,395.83 L1115.90,393.36 L1116.40,366.66 L1116.90,391.43 L1117.00,392.44 L1117.10,392.56 L1117.20,392.28 L1117.60,388.52 L1117.90,373.69 L1118.40,276.70 L1118.80,359.48 L1119.10,387.76 L1119.50,394.70 L1120.20,399.47 L1120.70,401.01 L1121.50,402.36 L1122.00,402.82 L1123.20,403.44 L1125.30,403.95 L1126.60,404.07 L1129.60,403.92 L1134.80,404.26 L1138.70,403.70 L1139.80,402.98 L1140.30,402.30 L1140.90,400.62 L1141.20,397.84 L1141.70,374.06 L1142.10,393.66 L1142.30,397.26 L1142.40,397.59 L1142.60,397.45 L1142.90,395.91 L1143.10,391.92 L1143.60,344.88 L1144.10,391.74 L1144.30,395.67 L1144.70,397.17 L1145.00,396.62 L1145.20,394.04 L1145.70,360.73 L1146.20,394.55 L1146.40,397.40 L1146.70,398.44 L1146.90,398.47 L1147.10,398.04 L1147.40,396.01 L1147.60,389.14 L1148.00,354.65 L1148.60,396.60 L1148.80,398.45 L1149.10,399.59 L1149.30,399.87 L1149.50,399.87 L1149.80,399.02 L1150.00,395.35 L1150.40,376.55 L1150.90,398.74 L1151.10,400.79 L1151.40,401.87 L1151.70,402.54 L1152.30,403.24 L1153.10,403.68 L1155.60,404.16 L1159.90,403.98 L1162.80,404.41 L1164.70,404.21 L1166.70,404.36 L1168.30,404.17 L1170.90,404.44 L1172.50,404.20 L1175.50,404.28 L1176.70,404.12 L1180.10,404.39 L1182.80,404.09 L1185.80,404.06 L1186.30,403.91 L1189.30,403.74 L1191.00,402.99 L1191.90,401.90 L1192.80,399.93 L1193.30,397.34 L1193.80,392.28 L1194.00,387.18 L1194.70,289.26 L1195.40,387.08 L1195.70,393.44 L1196.20,397.65 L1196.90,400.25 L1197.60,401.29 L1197.90,401.45 L1198.40,401.46 L1199.00,400.92 L1199.40,400.24 L1199.80,399.01 L1200.30,396.08 L1200.70,391.11 L1201.00,374.11 L1201.50,297.58 L1202.00,374.28 L1202.30,391.26 L1202.70,396.23 L1203.40,400.13 L1203.80,401.26 L1204.40,402.28 L1205.80,403.41 L1207.80,403.84 L1210.80,403.83 L1212.00,404.05 L1213.00,404.03 L1213.90,404.27 L1215.90,404.20 L1217.00,403.98 L1220.40,404.32 L1224.00,404.01 L1227.30,404.09 L1228.80,403.82 L1229.80,403.41 L1230.30,403.02 L1231.10,401.66 L1231.50,399.04 L1232.00,378.88 L1232.50,398.08 L1232.70,399.48 L1233.00,399.65 L1233.50,397.73 L1233.70,394.44 L1234.20,356.85 L1234.60,389.36 L1234.80,395.84 L1235.00,397.23 L1235.30,397.49 L1235.50,397.02 L1235.70,394.53 L1236.20,363.32 L1236.70,394.12 L1236.90,396.46 L1237.00,396.73 L1237.20,396.68 L1237.50,395.27 L1237.70,391.07 L1238.20,340.91 L1238.60,385.54 L1238.90,396.15 L1239.20,398.27 L1239.60,399.14 L1239.90,398.76 L1240.10,396.80 L1240.60,371.75 L1241.20,399.28 L1241.50,401.02 L1242.00,402.31 L1242.60,403.10 L1243.80,403.72 L1245.50,404.06 L1247.50,404.21 L1249.40,404.20 L1251.90,403.92 L1252.80,404.05 L1254.40,403.96 L1256.10,403.55 L1256.80,403.23 L1257.20,403.03 L1257.70,402.44 L1258.30,400.71 L1258.50,398.68 L1259.00,376.84 L1259.50,397.85 L1259.70,399.46 L1260.00,399.68 L1260.20,399.27 L1260.50,397.43 L1260.70,391.45 L1261.10,361.92 L1261.70,397.73 L1261.90,399.32 L1262.30,400.57 L1262.70,400.84 L1263.10,400.28 L1263.60,397.94 L1263.80,394.31 L1264.30,353.87 L1264.70,389.21 L1264.90,396.42 L1265.10,398.21 L1265.40,399.26 L1265.70,399.39 L1265.80,399.27 L1266.10,397.98 L1266.20,396.44 L1266.70,368.72 L1267.10,393.35 L1267.40,399.23 L1267.70,400.17 L1267.90,400.36 L1268.10,400.28 L1268.40,399.30 L1268.50,398.08 L1269.00,376.19 L1269.60,400.14 L1269.90,401.71 L1270.40,402.84 L1271.10,403.58 L1272.00,403.98 L1274.50,404.02 L1275.40,404.22 L1276.90,404.15 L1277.50,404.31 L1278.20,404.18 L1279.90,404.36 L1280.40,404.24 L1284.10,404.29 L1285.80,404.50 L1286.70,404.34 L1290.60,404.44 L1292.90,404.24 L1295.90,404.48 L1299.10,404.15 L1300.60,404.33 L1303.30,404.23 L1305.30,404.44 L1308.30,404.18 L1311.30,404.40 L1311.90,404.29 L1312.70,404.46 L1319.90,404.37 L1322.10,404.56 L1323.60,404.51 L1325.10,404.27 L1327.40,404.56 L1329.60,404.34 L1331.50,404.60 L1334.80,404.29 L1337.40,404.29 L1340.30,404.53 L1343.30,404.27 L1345.50,404.40 L1349.80,404.34 L1351.10,404.12 L1351.70,404.28 L1357.80,404.35 L1361.60,404.63 L1362.90,404.43 L1363.50,404.54 L1364.50,404.40 L1368.20,404.55 L1371.20,404.38 L1371.70,404.48 L1374.10,404.39 L1375.80,404.13 L1379.60,404.52 L1387.90,404.30 L1389.20,404.44 L1394.40,404.17 L1396.20,404.24 L1398.20,404.54 L1400.00,404.42 L1402.80,404.58 L1405.80,404.26 L1408.60,404.20 L1410.30,404.22 L1412.80,404.52 L1415.80,404.28 L1418.40,404.38 L1418.80,404.51 L1419.40,404.41 L1420.40,404.56 L1421.80,404.44 L1423.90,404.56 L1426.90,404.42 L1430.50,404.53 L1434.70,404.24 L1435.00,404.35 L1436.10,404.28 L1437.20,404.50 L1438.00,404.40 L1440.40,404.51 L1443.00,404.24 L1446.00,404.38 L1450.30,404.30 L1451.00,404.44 L1452.50,404.21 L1455.30,404.57 L1456.60,404.31 L1458.30,404.23 L1459.80,404.50 L1463.50,404.35 L1466.50,404.48 L1469.30,404.14 L1470.40,404.27 L1473.40,404.21 L1475.70,404.47 L1478.90,404.09 L1479.60,404.24 L1481.90,404.09 L1484.70,403.44 L1486.80,402.25 L1487.50,401.42 L1488.40,399.51 L1488.90,397.23 L1489.10,395.32 L1489.40,387.27 L1489.70,357.04 L1489.90,305.96 L1490.30,102.60 L1491.70,102.60 L1492.10,306.08 L1492.30,357.22 L1492.60,387.42 L1492.80,393.82 L1493.20,397.91 L1494.00,400.58 L1494.70,401.81 L1495.50,402.61 L1496.60,403.33 L1499.10,403.98 L1501.30,403.82 L1504.30,404.21 L1509.10,404.39 L1510.70,404.27 L1513.80,404.47 L1514.70,404.29 L1518.20,404.17 L1521.10,404.35 L1523.60,404.22 L1524.80,404.44 L1525.50,404.35 L1526.60,404.48 L1528.70,404.23 L1529.40,403.94 L1530.10,403.15 L1530.80,395.25 L1531.50,403.09 L1531.80,403.61 L1532.90,404.09 L1537.80,404.20 L1539.00,404.10 L1544.80,404.33 L1545.60,404.18 L1548.60,404.33 L1549.80,404.12 L1554.40,404.12 L1554.80,404.00 L1556.60,404.19 L1559.60,403.74 L1561.00,403.27 L1562.20,402.21 L1563.10,400.45 L1563.80,397.40 L1564.30,392.89 L1564.60,388.00 L1564.80,379.69 L1565.50,189.46 L1566.20,379.50 L1566.50,389.87 L1567.10,396.57 L1567.50,398.93 L1568.00,400.57 L1568.50,401.68 L1569.40,402.76 L1571.00,403.50 L1572.60,403.77 L1573.30,404.06 L1575.40,404.21 L1578.40,404.13 L1582.00,404.52 L1583.90,404.30 L1585.60,404.38 L1586.70,404.20 L1590.90,404.29 L1595.20,403.91 L1596.40,403.58 L1597.00,403.18 L1597.70,402.14 L1598.10,400.89 L1598.50,398.39 L1598.80,392.42 L1599.30,337.66 L1599.90,395.59 L1600.20,399.06 L1600.80,401.75 L1601.60,403.02 L1602.80,403.81 L1604.70,404.11 L1606.70,404.15 L1607.80,403.69 L1608.60,402.91 L1609.10,402.13 L1610.90,397.70 L1612.00,395.76 L1612.40,392.50 L1613.10,374.86 L1613.30,373.20 L1614.20,395.87 L1614.70,400.74 L1615.10,401.59 L1615.40,401.70 L1615.60,401.58 L1615.90,400.54 L1616.20,397.51 L1616.80,386.04 L1617.00,384.65 L1617.30,387.85 L1617.80,397.97 L1618.20,401.82 L1618.50,402.77 L1619.00,403.34 L1619.90,403.85 L1620.70,404.06 L1623.70,404.19 L1625.00,404.40 L1629.50,404.43 L1631.90,404.09 L1634.80,404.23 L1636.40,403.87 L1637.10,403.18 L1637.30,402.43 L1638.00,395.17 L1638.60,401.87 L1638.90,403.25 L1639.90,404.01 L1642.40,404.45 L1646.60,404.23 L1648.80,404.26 L1650.60,404.62 L1651.20,404.50 L1651.90,404.57 L1653.00,404.31 L1656.00,404.51 L1657.20,404.36 L1657.80,404.47 L1662.00,404.24 L1662.50,404.43 L1664.20,404.41 L1664.80,404.55 L1665.50,404.39 L1667.20,404.35 L1667.90,404.12 L1669.20,404.04 L1671.30,403.45 L1675.80,400.08 L1676.60,399.73 L1677.30,400.06 L1680.50,402.74 L1682.50,403.82 L1683.70,404.12 L1685.80,404.14 L1688.90,404.52 L1690.40,404.35 L1693.40,404.59 L1696.70,404.24 L1699.20,404.48 L1700.10,404.28 L1702.20,404.26 L1703.50,404.49 L1706.50,404.39 L1708.70,404.76 L1712.50,404.22 L1717.50,404.56 L1718.80,404.30 L1720.10,404.39 L1720.50,404.24 L1722.70,404.43 L1725.40,404.24 L1727.40,404.48 L1733.20,404.20 L1734.50,404.45 L1735.60,404.39 L1736.60,404.56 L1746.50,404.35 L1746.90,404.45 L1748.10,404.32 L1749.50,404.45 L1750.40,404.34 L1751.70,404.61 L1755.60,404.24 L1756.40,404.42 L1758.40,404.49 L1761.00,404.15 L1765.60,404.50 L1769.50,404.24 L1771.60,404.39 L1774.60,404.30 L1776.30,404.58 L1777.00,404.38 L1778.60,404.42 L1779.30,404.23 L1780.00,404.37 L1781.40,404.13 L1782.90,404.09 L1785.80,404.47 L1787.60,404.34 L1789.10,403.91 L1789.40,403.43 L1790.00,401.09 L1790.70,403.59 L1790.90,403.88 L1791.40,404.00 L1794.40,404.12 L1798.00,403.96 L1801.20,404.15 L1805.20,403.49 L1806.50,402.98 L1807.60,402.25 L1808.40,401.20 L1808.90,400.11 L1809.70,396.48 L1810.30,389.69 L1810.60,379.42 L1811.30,192.86 L1811.80,351.37 L1812.10,384.61 L1812.50,392.45 L1812.90,396.20 L1813.40,398.94 L1814.00,400.71 L1814.60,401.64 L1815.80,402.42 L1816.80,402.54 L1818.50,402.00 L1819.00,401.53 L1819.70,400.41 L1820.30,398.83 L1820.70,397.00 L1820.90,395.10 L1821.20,387.01 L1821.50,356.77 L1821.70,305.67 L1822.10,102.60 L1823.50,102.60 L1824.10,356.97 L1824.50,391.11 L1824.80,396.32 L1825.20,398.61 L1825.60,399.92 L1826.30,401.42 L1827.10,402.38 L1827.90,403.03 L1829.40,403.52 L1831.40,403.82 L1833.10,403.82 L1834.30,404.07 L1835.20,403.94 L1839.40,404.23 L1841.40,404.14 L1843.00,403.86 L1843.40,403.45 L1844.00,401.60 L1844.70,403.70 L1845.20,404.06 L1846.10,404.27 L1847.10,404.19 L1851.70,404.41 L1854.70,404.18 L1857.70,404.49 L1860.90,404.34 L1863.20,404.47 L1867.90,404.01 L1868.80,404.25 L1871.10,404.42 L1873.20,404.35 L1873.60,404.49 L1874.80,404.30 L1876.30,404.41 L1878.70,404.21 L1882.50,404.47 L1883.20,404.33 L1886.20,404.41 L1889.10,404.09 L1890.50,404.40 L1891.50,404.35 L1892.20,404.51 L1893.50,404.39 L1894.60,404.54 L1897.50,404.45" stroke-width="3.0"/>
</g>
<path d="M257,772.4 H1897.8" stroke="#000" stroke-width="1.4" fill="none"/>
<path d="M1822.90,772.4 v8.6 M1739.38,772.4 v4.8 M1655.87,772.4 v8.6 M1572.36,772.4 v4.8 M1488.84,772.4 v8.6 M1405.33,772.4 v4.8 M1321.81,772.4 v8.6 M1238.30,772.4 v4.8 M1154.78,772.4 v8.6 M1071.27,772.4 v4.8 M987.75,772.4 v8.6 M904.24,772.4 v4.8 M820.72,772.4 v8.6 M737.21,772.4 v4.8 M653.69,772.4 v8.6 M570.18,772.4 v4.8 M486.66,772.4 v8.6 M403.14,772.4 v4.8 M319.63,772.4 v8.6" stroke="#000" stroke-width="1.3" fill="none"/>
<text x="1823.05" y="805.5" text-anchor="middle" class="tick">0</text>
<text x="1656.02" y="805.5" text-anchor="middle" class="tick">1</text>
<text x="1488.99" y="805.5" text-anchor="middle" class="tick">2</text>
<text x="1321.96" y="805.5" text-anchor="middle" class="tick">3</text>
<text x="1154.93" y="805.5" text-anchor="middle" class="tick">4</text>
<text x="987.90" y="805.5" text-anchor="middle" class="tick">5</text>
<text x="820.87" y="805.5" text-anchor="middle" class="tick">6</text>
<text x="653.84" y="805.5" text-anchor="middle" class="tick">7</text>
<text x="486.81" y="805.5" text-anchor="middle" class="tick">8</text>
<text x="319.78" y="805.5" text-anchor="middle" class="tick">9</text>
<text transform="translate(1077.5,815.9) scale(0.935,1)" text-anchor="middle" class="tick">ppm</text>
<path d="M339.50,157.85 A8.65,10.35 0 0 1 348.15,147.50 L361.24,147.50 A9.90,10.40 0 0 0 371.14,137.10 A9.90,10.40 0 0 0 381.04,147.50 L393.95,147.50 A8.65,10.35 0 0 1 402.60,157.85 M462.20,277.10 A10.50,11.80 0 0 1 472.70,265.30 L523.25,265.30 A10.10,10.90 0 0 0 533.35,254.40 A10.10,10.90 0 0 0 543.45,265.30 L594.50,265.30 A10.50,11.80 0 0 1 605.00,277.10 M635.20,242.80 A6.00,13.90 0 0 1 641.20,228.90 L670.80,228.90 A5.00,13.40 0 0 0 675.80,215.50 A5.00,13.40 0 0 0 680.80,228.90 L710.70,228.90 A6.00,13.90 0 0 1 716.70,242.80 M764.35,104.05 A5.50,9.49 0 0 1 769.85,94.56 L784.20,94.56 A4.60,9.16 0 0 0 788.80,85.40 A4.60,9.16 0 0 0 793.40,94.56 L807.80,94.56 A5.50,9.49 0 0 1 813.30,104.05 M1087.40,259.50 A4.00,11.00 0 0 1 1091.40,248.50 L1108.60,248.50 A3.80,10.80 0 0 0 1112.40,237.70 A3.80,10.80 0 0 0 1116.20,248.50 L1133.70,248.50 A4.00,11.00 0 0 1 1137.70,259.50 M1097.90,349.00 A5.80,10.55 0 0 1 1103.70,338.45 L1124.80,338.45 A4.70,10.45 0 0 0 1129.50,328.00 A4.70,10.45 0 0 0 1134.20,338.45 L1155.80,338.45 A5.80,10.55 0 0 1 1161.60,349.00 M1171.40,292.80 A3.80,11.00 0 0 1 1175.20,281.80 L1192.60,281.80 A3.80,10.40 0 0 0 1196.40,271.40 A3.80,10.40 0 0 0 1200.20,281.80 L1217.70,281.80 A3.80,11.00 0 0 1 1221.50,292.80 M1215.90,349.00 A5.80,10.55 0 0 1 1221.70,338.45 L1242.75,338.45 A4.70,10.45 0 0 0 1247.45,328.00 A4.70,10.45 0 0 0 1252.15,338.45 L1273.80,338.45 A5.80,10.55 0 0 1 1279.60,349.00 M606.80,631.90 A6.10,14.05 0 0 1 612.90,617.85 L642.00,617.85 A5.50,13.65 0 0 0 647.50,604.20 A5.50,13.65 0 0 0 653.00,617.85 L682.30,617.85 A6.10,14.05 0 0 1 688.40,631.90" fill="none" stroke="#585a59" stroke-width="2.6" stroke-linecap="butt" stroke-linejoin="miter" stroke-miterlimit="6"/>
<path d="M19.91,43.38 L30.85,50.72 L27.32,54.25 L42.90,55.80 L35.57,41.96 L33.64,46.57 L22.69,39.22Z M279.07,21.17 L269.19,33.92 L265.91,30.16 L263.30,45.60 L277.60,39.23 L273.14,36.99 L283.03,24.23Z M63.79,170.33 L72.72,162.98 L75.09,167.38 L81.05,152.90 L65.69,155.95 L69.55,159.12 L60.61,166.47Z M96.91,223.05 L108.31,218.87 L109.09,223.80 L119.50,212.10 L104.00,209.90 L106.59,214.17 L95.19,218.35Z M110.32,284.30 L120.05,276.02 L122.49,280.38 L128.20,265.80 L112.90,269.11 L116.81,272.22 L107.08,280.50Z M107.09,327.79 L120.96,335.47 L117.74,339.29 L133.40,339.50 L124.91,326.34 L123.38,331.10 L109.51,323.41Z M103.10,732.89 L117.04,740.53 L113.84,744.36 L129.50,744.50 L120.95,731.38 L119.44,736.14 L105.50,728.51Z" fill="#585a59"/>
<text x="9.37" y="42.80" text-anchor="middle" class="lab">b</text>
<text x="291.23" y="19.80" text-anchor="middle" class="lab">a</text>
<text x="50.10" y="179.70" text-anchor="middle" class="lab">f</text>
<text x="82.63" y="234.10" text-anchor="middle" class="lab">d</text>
<text x="92.10" y="291.20" text-anchor="middle" class="lab">e</text>
<text x="93.03" y="334.40" text-anchor="middle" class="lab">c</text>
<text x="88.83" y="738.50" text-anchor="middle" class="lab">c</text>
<text x="370.18" y="131.50" text-anchor="middle" class="lab">a</text>
<text x="535.72" y="247.90" text-anchor="middle" class="lab">b</text>
<text x="676.48" y="209.60" text-anchor="middle" class="lab">c</text>
<text x="787.68" y="80.20" text-anchor="middle" class="lab">d</text>
<text x="1112.80" y="232.20" text-anchor="middle" class="lab">e</text>
<text x="1129.85" y="321.80" text-anchor="middle" class="lab">f</text>
<text x="1196.70" y="265.90" text-anchor="middle" class="lab">e</text>
<text x="1248.75" y="321.80" text-anchor="middle" class="lab">f</text>
<text x="648.23" y="598.80" text-anchor="middle" class="lab">c</text>
<text x="185.6" y="397.9" text-anchor="middle" class="cap">Diamagnetic</text>
<text x="185.35" y="802.2" text-anchor="middle" class="cap">Paramagnetic</text>
</svg>
</body>
</html>
